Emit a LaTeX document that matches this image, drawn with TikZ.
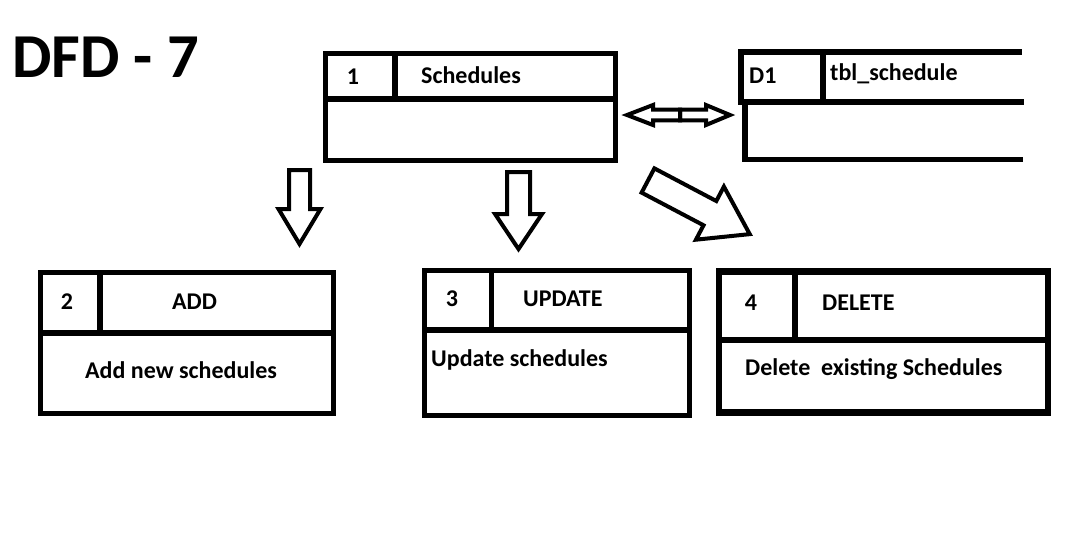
\documentclass[tikz,border=0pt]{standalone}
\usepackage{fontspec}
\setmainfont{Carlito}
\usetikzlibrary{positioning}

\newcommand\fatarrow[4]{%
  \draw[arrowline] (0,-#2) -- ({#1-#4},-#2) -- ({#1-#4},-#3) -- (#1,0)
    -- ({#1-#4},#3) -- ({#1-#4},#2) -- (0,#2) -- cycle;}

\begin{document}
\begin{tikzpicture}
  [x=1pt, y=1pt, line join=miter,
   boxline/.style={line width=5.5pt},
   procbox/.style={draw, boxline, inner sep=0pt, outer sep=0pt, anchor=north west},
   arrowline/.style={line width=4pt},
   lbl/.style={font=\bfseries\fontsize{24}{28}\selectfont, inner sep=0pt, anchor=base west},
   num/.style={lbl, anchor=base},
   ttl/.style={font=\bfseries\fontsize{62.5}{72}\selectfont, inner sep=0pt, anchor=base west}]
  \useasboundingbox (0,0) rectangle (1083,-558);

  \node[ttl] (title) at (12,-77) {DFD - 7};

  \node[procbox, minimum width=290pt, minimum height=107pt] (p1) at (325.5,-53.5) {};
  \node[procbox, minimum width=69.5pt, minimum height=45.5pt] (p1id) at (p1.north west) {};
  \draw[boxline] (p1id.south east) -- (p1id.south east -| p1.east);
  \node[num] (p1num) at (353,-84) {1};
  \node[lbl] (p1name) at (421,-83) {Schedules};

  \node[procbox, minimum width=82pt, minimum height=50pt] (d1id) at (741,-52) {};
  \coordinate (d1top) at (1022,-52);
  \coordinate (d1mid) at (1024,-102);
  \coordinate (d1bl) at (745,-159.5);
  \coordinate (d1br) at (1023,-159.5);
  \draw[boxline] (d1id.north east) -- (d1top);
  \draw[boxline] (d1id.south east) -- (d1mid);
  \draw[boxline] (d1id.south west -| d1bl) -- (d1bl) -- (d1br);
  \node[lbl] (d1num) at (749,-83) {D1};
  \node[lbl] (d1name) at (830,-80) {tbl\_schedule};

  \node[procbox, minimum width=293pt, minimum height=141pt] (p2) at (40.5,-272.5) {};
  \node[procbox, minimum width=59.5pt, minimum height=60.5pt] (p2id) at (p2.north west) {};
  \draw[boxline] (p2id.south east) -- (p2id.south east -| p2.east);
  \node[num] (p2num) at (67,-309) {2};
  \node[lbl] (p2name) at (172,-309) {ADD};
  \node[lbl] (p2text) at (85,-378) {Add new schedules};

  \node[procbox, minimum width=265pt, minimum height=145pt] (p3) at (424.5,-270.5) {};
  \node[procbox, minimum width=67pt, minimum height=59.5pt] (p3id) at (p3.north west) {};
  \draw[boxline] (p3id.south east) -- (p3id.south east -| p3.east);
  \node[num] (p3num) at (452,-306) {3};
  \node[lbl] (p3name) at (523,-306) {UPDATE};
  \node[lbl] (p3text) at (431,-366) {Update schedules};

  \node[procbox, line width=6.5pt, minimum width=329pt, minimum height=141pt] (p4) at (719,-271.5) {};
  \node[procbox, line width=6.5pt, minimum width=76pt, minimum height=68.5pt] (p4id) at (p4.north west) {};
  \draw[boxline, line width=6.5pt] (p4id.south east) -- (p4id.south east -| p4.east);
  \node[num] (p4num) at (751,-310) {4};
  \node[lbl] (p4name) at (822,-310) {DELETE};
  \node[lbl] (p4text) at (745,-375) {Delete\ \ existing Schedules};

  \coordinate (a12) at (299.5,-170);
  \coordinate (a13) at (518.5,-172);
  \coordinate (a14) at (648,-180.5);
  \coordinate (a1d) at (680,-115);
  \begin{scope}[shift={(a12)}, rotate=-90] \fatarrow{74}{10.5}{21}{35} \end{scope}
  \begin{scope}[shift={(a13)}, rotate=-90] \fatarrow{77}{11.5}{23.5}{35} \end{scope}
  \begin{scope}[shift={(a14)}, rotate=-27.8] \fatarrow{115}{13.7}{30}{45} \end{scope}
  \begin{scope}[shift={(a1d)}, rotate=180] \fatarrow{53}{5.4}{10}{26} \end{scope}
  \begin{scope}[shift={(a1d)}] \fatarrow{50}{5.4}{10}{24} \end{scope}
\end{tikzpicture}
\end{document}
